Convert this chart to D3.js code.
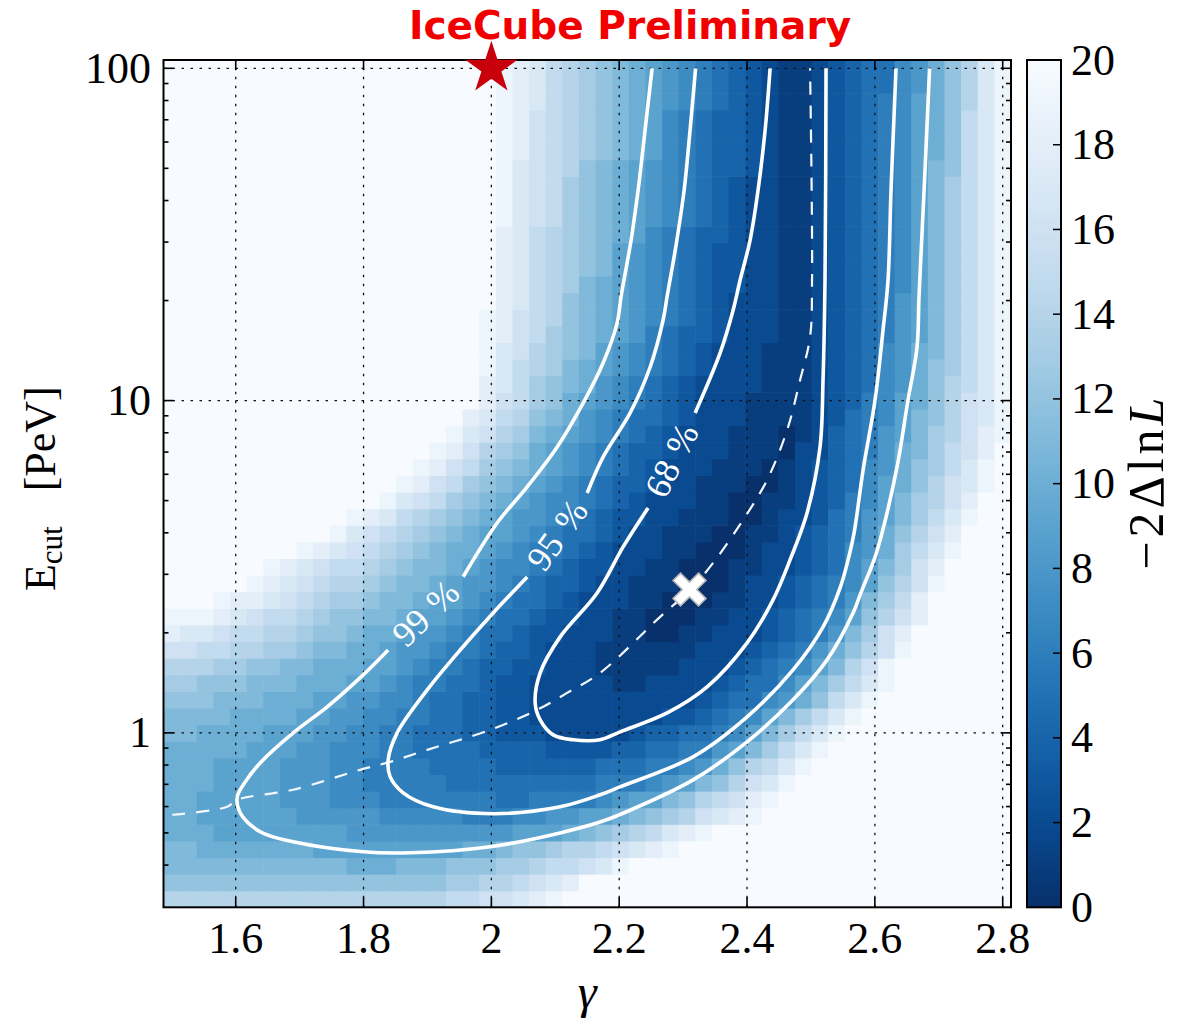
<!DOCTYPE html>
<html>
<head>
<meta charset="utf-8">
<script src="https://cdn.jsdelivr.net/npm/d3@7"></script>
<style>
  html, body { margin: 0; padding: 0; background: #fff; }
  svg { display: block; }
</style>
</head>
<body>
<svg id="chart" width="1182" height="1025"></svg>
<script>
// Scan grid: spectral index (columns) and log10 of the cutoff energy in PeV (rows)
const gammaGrid = [1.500,1.526,1.552,1.578,1.604,1.630,1.656,1.682,1.708,1.734,1.760,1.786,1.812,1.838,1.864,1.890,1.916,1.942,1.968,1.994,2.020,2.046,2.072,2.098,2.124,2.150,2.176,2.202,2.228,2.254,2.280,2.306,2.332,2.358,2.384,2.410,2.436,2.462,2.488,2.514,2.540,2.566,2.592,2.618,2.644,2.670,2.696,2.722,2.748,2.774,2.800];
const log10EcutGrid = [-0.50,-0.45,-0.40,-0.35,-0.30,-0.25,-0.20,-0.15,-0.10,-0.05,0.00,0.05,0.10,0.15,0.20,0.25,0.30,0.35,0.40,0.45,0.50,0.55,0.60,0.65,0.70,0.75,0.80,0.85,0.90,0.95,1.00,1.05,1.10,1.15,1.20,1.25,1.30,1.35,1.40,1.45,1.50,1.55,1.60,1.65,1.70,1.75,1.80,1.85,1.90,1.95,2.00];

// -2ΔlnL, one row per Ecut value (lowest Ecut first), one base-36 digit per γ column:
// 0-9 = 0-9, a = 10 ... k = 20 (20 and above). Spaces only group the columns in tens.
const tsByEcutRow = [
  "eeeeeeeeee eeeeeeeffg ghijkkkkkk kkkkkkkkkk kkkkkkkkkk k",
  "cccccccccc cccccccdde efghikkkkk kkkkkkkkkk kkkkkkkkkk k",
  "bbbbbbbbbb baaabbbccc ddeffghjkk kkkkkkkkkk kkkkkkkkkk k",
  "bbaaaaaaa9 99999999aa bccdeefghi jkkkkkkkkk kkkkkkkkkk k",
  "aaa9999999 9888888888 8999abcdef hijkkkkkkk kkkkkkkkkk k",
  "aa99999988 8887777766 6778899abc deghijkkkk kkkkkkkkkk k",
  "aa99999888 7776666666 5566667899 bcefgijkkk kkkkkkkkkk k",
  "aaa9999888 7766666555 5555556667 89bceghjkk kkkkkkkkkk k",
  "aaa9999888 7766665555 4444445556 678acefhjk kkkkkkkkkk k",
  "aaaaa99988 7776655554 4443333445 56689bdfhj kkkkkkkkkk k",
  "bbaaaa9998 8776655544 3332222234 455679bdfh jkkkkkkkkk k",
  "bbbbaaaa99 8877665544 3322222222 3345679bdf hjkkkkkkkk k",
  "cccbbbaaa9 9887765544 3322222222 22345578ac fhjkkkkkkk k",
  "ddcccbbbaa a998766554 3322222112 222345579b dfhjkkkkkk k",
  "eeeddccbba aa99876654 4332221111 1222345679 begjkkkkkk k",
  "ggffeeddcb baa9887665 4432221111 1122234568 acegjkkkkk k",
  "ihhgffeedc cbaa988765 5433222110 0112223456 8bdgikkkkk k",
  "jjjihgffed ccbba99876 5543322110 0011223456 79cegikkkk k",
  "kkkjiihgfe ddcbba9987 6554322211 0001122345 68bdfikkkk k",
  "kkkkkjihgf eedcbba988 7654432211 1000122345 679cegjkkk k",
  "kkkkkkjihg ffedcbba98 7765433221 1000112234 579bdgikkk k",
  "kkkkkkkkji hgfedcbaa9 8766543222 1100012234 578adfhjkk k",
  "kkkkkkkkkk jhgfedcba9 9876554322 1110011234 568acegikk k",
  "kkkkkkkkkk kjihfedcba 9887654332 2111001223 5689bdfhjk k",
  "kkkkkkkkkk kkkjhgfdcb a987765432 2211001123 4679bdegik k",
  "kkkkkkkkkk kkkkjigfdc ba98765443 2211100123 4579aceghj k",
  "kkkkkkkkkk kkkkkjigfd cba9876543 2221110123 4578acdfhj k",
  "kkkkkkkkkk kkkkkkjige dca9876544 3222111022 4568abdfgi k",
  "kkkkkkkkkk kkkkkkkjhg edba987654 3222111012 45689bdegi j",
  "kkkkkkkkkk kkkkkkkkih fecba87655 4322211112 35679bcegh j",
  "kkkkkkkkkk kkkkkkkkki gfdca98765 4322211112 34679acegh j",
  "kkkkkkkkkk kkkkkkkkki hfdcba8765 4322221112 34578acefh j",
  "kkkkkkkkkk kkkkkkkkkj hfedba9876 5432221112 34578acdfh j",
  "kkkkkkkkkk kkkkkkkkkj hgedcb9876 5432221112 34578abdfh j",
  "kkkkkkkkkk kkkkkkkkkj igfdcba986 5443222112 345689bdfh j",
  "kkkkkkkkkk kkkkkkkkkj igfecba987 6543222112 345689bdfh j",
  "kkkkkkkkkk kkkkkkkkkk ihfecba987 6543222112 345689bdfh j",
  "kkkkkkkkkk kkkkkkkkkk ihfedba987 6543322112 345679bdfh j",
  "kkkkkkkkkk kkkkkkkkkk ihfedcb987 6543322112 345679bdfh j",
  "kkkkkkkkkk kkkkkkkkkk ihfedcb987 6543322112 345679bdfh j",
  "kkkkkkkkkk kkkkkkkkkk ihfedcba97 6544322112 345679bdfh j",
  "kkkkkkkkkk kkkkkkkkkk jhgfdcba98 7654322112 345679bdfh j",
  "kkkkkkkkkk kkkkkkkkkk jhgfdcba98 7654322112 345679bdfh j",
  "kkkkkkkkkk kkkkkkkkkk jhgfdcba98 7654322112 345679bdfh j",
  "kkkkkkkkkk kkkkkkkkkk jhgfecba98 7654432112 345679bcfh j",
  "kkkkkkkkkk kkkkkkkkkk jigfedcba9 7654432112 345679acfh j",
  "kkkkkkkkkk kkkkkkkkkk jigfedcba9 7654432112 345679acfh j",
  "kkkkkkkkkk kkkkkkkkkk jigfedcba9 7654432112 345679acfh j",
  "kkkkkkkkkk kkkkkkkkkk jihfedcba9 8765432112 345679aceh j",
  "kkkkkkkkkk kkkkkkkkkk jihfedcba9 8765432112 345578aceh j",
  "kkkkkkkkkk kkkkkkkkkk jihfedcba9 8765432112 345578aceh j"
];

// Confidence contours as [γ, Ecut (PeV)] points; each level is split where its label sits
const contour99Upper = [[2.2515,100],[2.2405,65.2],[2.2296,43.0],[2.2186,30.4],[2.2030,20.6],[2.1967,17.1],[2.1748,12.98],[2.1435,9.83],[2.1029,7.25],[2.0560,5.50],[2.0090,4.28],[1.9559,2.95]];
const contour99Lower = [[1.8385,1.776],[1.7994,1.494],[1.7431,1.197],[1.6899,1.0],[1.6383,0.812],[1.6149,0.712],[1.6023,0.642],[1.6070,0.574],[1.6383,0.504],[1.6899,0.470],[1.7994,0.4385],[1.8729,0.4355],[1.9980,0.454],[2.1076,0.500],[2.1701,0.539],[2.2014,0.568],[2.3156,0.722],[2.4001,0.939],[2.4720,1.257],[2.5252,1.658],[2.5659,2.296],[2.5799,2.693],[2.5988,3.315],[2.6113,3.998],[2.6347,6.314],[2.6519,10.04],[2.6660,14.50],[2.6691,20.6],[2.6770,43.0],[2.6856,100]];
const contour95Upper = [[2.3195,100],[2.3109,65.2],[2.3016,43.0],[2.2890,29.4],[2.2750,20.6],[2.2687,17.48],[2.2484,12.62],[2.2171,9.18],[2.1749,6.77],[2.1499,5.27]];
const contour95Lower = [[2.0560,2.946],[2.0028,2.296],[1.9512,1.776],[1.8996,1.347],[1.8526,1.0],[1.8385,0.829],[1.8417,0.737],[1.8620,0.660],[1.9089,0.599],[2.0028,0.571],[2.1076,0.599],[2.1701,0.651],[2.2014,0.688],[2.3156,0.847],[2.4001,1.117],[2.4720,1.547],[2.5190,2.084],[2.5456,2.731],[2.5581,3.315],[2.5675,3.998],[2.5816,6.18],[2.6003,10.04],[2.6128,16.31],[2.6206,23.06],[2.6253,43.0],[2.6331,100]];
const contour68Upper = [[2.4361,100],[2.4283,65.2],[2.4173,43.0],[2.4048,30.4],[2.3892,23.06],[2.3783,18.73],[2.3579,13.91],[2.3188,9.18]];
const contour68Lower = [[2.2452,4.753],[2.2061,3.627],[2.1655,2.637],[2.1076,1.945],[2.0763,1.515],[2.0685,1.231],[2.0763,1.094],[2.0967,0.986],[2.1279,0.953],[2.1701,0.953],[2.2014,1.007],[2.2750,1.148],[2.3375,1.375],[2.4001,1.866],[2.4407,2.513],[2.4673,3.315],[2.4939,4.590],[2.5142,7.25],[2.5189,11.53],[2.5220,23.06],[2.5236,100]];
const contourLevelLabels = ["99 %", "95 %", "68 %"];

// Best-fit Ecut for each γ (dashed), the overall best fit and the E^-2 reference point
const profileBestFit = [[1.5007,0.567],[1.5867,0.599],[1.6023,0.629],[1.6899,0.674],[1.7947,0.774],[1.8417,0.818],[1.8996,0.889],[1.9981,1.021],[2.0716,1.173],[2.1185,1.319],[2.1701,1.515],[2.2640,2.234],[2.3109,2.693],[2.3469,3.246],[2.3938,4.373],[2.4314,5.77],[2.4627,8.155],[2.4830,11.53],[2.4986,15.54],[2.5017,23.06],[2.4986,100]];
const bestFitPoint = [2.31, 2.7];
const referencePoint = [2.0, 100];

// Axis ticks
const gammaTicks = [1.6, 1.8, 2.0, 2.2, 2.4, 2.6, 2.8];
const gammaTickLabels = ["1.6", "1.8", "2", "2.2", "2.4", "2.6", "2.8"];
const ecutTicks = [1, 10, 100];
const ecutTickLabels = ["1", "10", "100"];
const ecutMinorTicks = [0.4,0.5,0.6,0.7,0.8,0.9,2,3,4,5,6,7,8,9,20,30,40,50,60,70,80,90];
const colorbarTicks = [0, 2, 4, 6, 8, 10, 12, 14, 16, 18, 20];

// ---------------------------------------------------------------- layout
const plot = { left: 163.5, right: 1011, top: 60, bottom: 907.3 };
const cbar = { left: 1027, right: 1061, top: 60, bottom: 907.3 };
const serif = "'Liberation Serif', 'Times New Roman', serif";
const tickFont = 44;

const svg = d3.select("#chart");
const defs = svg.append("defs");
defs.append("clipPath").attr("id", "plotClip")
  .append("rect")
  .attr("x", plot.left).attr("y", plot.top)
  .attr("width", plot.right - plot.left).attr("height", plot.bottom - plot.top);

// cell edges halfway between neighbouring grid values
function cellEdges(c) {
  const e = [c[0] - (c[1] - c[0]) / 2];
  for (let i = 1; i < c.length; i++) e.push((c[i - 1] + c[i]) / 2);
  e.push(c[c.length - 1] + (c[c.length - 1] - c[c.length - 2]) / 2);
  return e;
}
const gEdges = cellEdges(gammaGrid);
const lEdges = cellEdges(log10EcutGrid);

const x = d3.scaleLinear()
  .domain([gEdges[0], gEdges[gEdges.length - 1]])
  .range([plot.left, plot.right]);
const y = d3.scaleLog()
  .domain([Math.pow(10, lEdges[0]), Math.pow(10, lEdges[lEdges.length - 1])])
  .range([plot.bottom, plot.top]);
const color = d3.scaleSequential(d3.interpolateBlues).domain([20, 0]).clamp(true);

// ---------------------------------------------------------------- heat map
const cells = [];
tsByEcutRow.forEach((row, j) => {
  const s = row.replace(/ /g, "");
  if (s.length !== gammaGrid.length) console.error("row " + j + " has " + s.length + " cells");
  for (let i = 0; i < s.length; i++) cells.push({ i, j, v: parseInt(s[i], 36) });
});

svg.append("g")
  .attr("clip-path", "url(#plotClip)")
  .selectAll("rect")
  .data(cells)
  .join("rect")
  .attr("x", d => x(gEdges[d.i]))
  .attr("width", d => x(gEdges[d.i + 1]) - x(gEdges[d.i]) + 0.6)
  .attr("y", d => y(Math.pow(10, lEdges[d.j + 1])))
  .attr("height", d => y(Math.pow(10, lEdges[d.j])) - y(Math.pow(10, lEdges[d.j + 1])) + 0.6)
  .attr("fill", d => color(d.v));

// ---------------------------------------------------------------- dotted grid
const grid = svg.append("g")
  .attr("clip-path", "url(#plotClip)")
  .attr("stroke", "#111")
  .attr("stroke-width", 1.3)
  .attr("stroke-dasharray", "2.5,6.5");
grid.selectAll("line.gx").data(gammaTicks).join("line")
  .attr("x1", d => x(d)).attr("x2", d => x(d))
  .attr("y1", plot.bottom).attr("y2", plot.top);
grid.selectAll("line.gy").data(ecutTicks).join("line")
  .attr("x1", plot.left).attr("x2", plot.right)
  .attr("y1", d => y(d)).attr("y2", d => y(d));

// ---------------------------------------------------------------- contours
const line = d3.line()
  .x(d => x(d[0]))
  .y(d => y(d[1]))
  .curve(d3.curveCatmullRom.alpha(0.5));

const contourGroup = svg.append("g")
  .attr("clip-path", "url(#plotClip)")
  .attr("fill", "none");

contourGroup.append("path")
  .attr("d", line(profileBestFit))
  .attr("stroke", "#f4f8fc")
  .attr("stroke-width", 2.2)
  .attr("stroke-dasharray", "13,11");

[contour99Upper, contour99Lower, contour95Upper, contour95Lower, contour68Upper, contour68Lower]
  .forEach(seg => {
    contourGroup.append("path")
      .attr("d", line(seg))
      .attr("stroke", "#fff")
      .attr("stroke-width", 3.6)
      .attr("stroke-linejoin", "round");
  });

// labels sit in the gap between the two pieces of each level
const labelPairs = [
  [contour99Upper, contour99Lower],
  [contour95Upper, contour95Lower],
  [contour68Upper, contour68Lower]
];
labelPairs.forEach((pair, k) => {
  const a = pair[0][pair[0].length - 1];
  const b = pair[1][0];
  const ax = x(a[0]), ay = y(a[1]), bx = x(b[0]), by = y(b[1]);
  const ang = Math.atan2(ay - by, ax - bx) * 180 / Math.PI;
  svg.append("text")
    .attr("transform", `translate(${(ax + bx) / 2},${(ay + by) / 2}) rotate(${ang})`)
    .attr("text-anchor", "middle")
    .attr("dominant-baseline", "central")
    .attr("font-family", serif)
    .attr("font-size", 36)
    .attr("word-spacing", 2)
    .attr("fill", "#fff")
    .text(contourLevelLabels[k]);
});

// best-fit marker: filled "X"
(function () {
  const L = 18, w = 5.2;
  const plus = [[-w,-L],[w,-L],[w,-w],[L,-w],[L,w],[w,w],[w,L],[-w,L],[-w,w],[-L,w],[-L,-w],[-w,-w]];
  const s = Math.SQRT1_2;
  const pts = plus.map(p => [(p[0] - p[1]) * s, (p[0] + p[1]) * s]);
  svg.append("path")
    .attr("transform", `translate(${x(bestFitPoint[0])},${y(bestFitPoint[1])})`)
    .attr("d", "M" + pts.map(p => p.join(",")).join("L") + "Z")
    .attr("fill", "#fff")
    .attr("stroke", "#b8b8b8")
    .attr("stroke-width", 1.6)
    .attr("stroke-linejoin", "miter");
})();

// ---------------------------------------------------------------- frame and ticks
const axes = svg.append("g").attr("stroke", "#000").attr("stroke-width", 1.6);
gammaTicks.forEach(g => {
  axes.append("line").attr("x1", x(g)).attr("x2", x(g)).attr("y1", plot.bottom).attr("y2", plot.bottom - 10);
  axes.append("line").attr("x1", x(g)).attr("x2", x(g)).attr("y1", plot.top).attr("y2", plot.top + 10);
});
ecutTicks.forEach(e => {
  axes.append("line").attr("x1", plot.left).attr("x2", plot.left + 10).attr("y1", y(e)).attr("y2", y(e));
  axes.append("line").attr("x1", plot.right).attr("x2", plot.right - 10).attr("y1", y(e)).attr("y2", y(e));
});
ecutMinorTicks.forEach(e => {
  axes.append("line").attr("x1", plot.left).attr("x2", plot.left + 5).attr("y1", y(e)).attr("y2", y(e));
  axes.append("line").attr("x1", plot.right).attr("x2", plot.right - 5).attr("y1", y(e)).attr("y2", y(e));
});
svg.append("rect")
  .attr("x", plot.left).attr("y", plot.top)
  .attr("width", plot.right - plot.left).attr("height", plot.bottom - plot.top)
  .attr("fill", "none").attr("stroke", "#000").attr("stroke-width", 2);

// tick labels
svg.append("g").selectAll("text").data(gammaTicks).join("text")
  .attr("x", d => x(d)).attr("y", 953)
  .attr("text-anchor", "middle")
  .attr("font-family", serif).attr("font-size", tickFont).attr("fill", "#000")
  .text((d, i) => gammaTickLabels[i]);
svg.append("g").selectAll("text").data(ecutTicks).join("text")
  .attr("x", 151).attr("y", d => y(d) + 14.5)
  .attr("text-anchor", "end")
  .attr("font-family", serif).attr("font-size", tickFont).attr("fill", "#000")
  .text((d, i) => ecutTickLabels[i]);

// axis titles
svg.append("text")
  .attr("x", (plot.left + plot.right) / 2).attr("y", 1008)
  .attr("text-anchor", "middle")
  .attr("font-family", serif).attr("font-size", 48).attr("font-style", "italic")
  .text("γ");

const yTitle = svg.append("text")
  .attr("transform", `translate(55,${(plot.top + plot.bottom) / 2 + 5}) rotate(-90)`)
  .attr("text-anchor", "middle")
  .attr("font-family", serif).attr("font-size", 44).attr("fill", "#000");
yTitle.append("tspan").text("E");
yTitle.append("tspan").attr("font-size", 31).attr("dy", 7).text("cut");
yTitle.append("tspan").attr("dy", -7).attr("dx", 24).text(" [PeV]");

// ---------------------------------------------------------------- colour bar
const grad = defs.append("linearGradient").attr("id", "cbarGrad")
  .attr("x1", 0).attr("y1", 1).attr("x2", 0).attr("y2", 0);
d3.range(0, 20.001, 0.5).forEach(v => {
  grad.append("stop").attr("offset", v / 20).attr("stop-color", color(v));
});
const cbScale = d3.scaleLinear().domain([0, 20]).range([cbar.bottom, cbar.top]);
svg.append("rect")
  .attr("x", cbar.left).attr("y", cbar.top)
  .attr("width", cbar.right - cbar.left).attr("height", cbar.bottom - cbar.top)
  .attr("fill", "url(#cbarGrad)")
  .attr("stroke", "#000").attr("stroke-width", 2);
svg.append("g").attr("stroke", "#000").attr("stroke-width", 1.5)
  .selectAll("line").data(colorbarTicks).join("line")
  .attr("x1", cbar.right).attr("x2", cbar.right - 8)
  .attr("y1", d => cbScale(d)).attr("y2", d => cbScale(d));
svg.append("g").selectAll("text").data(colorbarTicks).join("text")
  .attr("x", 1071).attr("y", d => cbScale(d) + 14.5)
  .attr("font-family", serif).attr("font-size", tickFont).attr("fill", "#000")
  .text(d => d);

const cbTitle = svg.append("text")
  .attr("transform", `translate(1163,${(cbar.top + cbar.bottom) / 2 - 2}) rotate(-90)`)
  .attr("text-anchor", "middle")
  .attr("font-family", serif).attr("font-size", 50).attr("letter-spacing", 4).attr("fill", "#000");
cbTitle.append("tspan").text("−2Δln");
cbTitle.append("tspan").attr("font-style", "italic").text("L");

// ---------------------------------------------------------------- reference star and title
(function () {
  const R = 27.5, r = 10.5;
  const pts = d3.range(10).map(k => {
    const a = -Math.PI / 2 + k * Math.PI / 5;
    const rad = k % 2 === 0 ? R : r;
    return [rad * Math.cos(a), rad * Math.sin(a)];
  });
  svg.append("path")
    .attr("transform", `translate(${x(referencePoint[0])},${y(referencePoint[1])})`)
    .attr("d", "M" + pts.map(p => p.join(",")).join("L") + "Z")
    .attr("fill", "#c8000c");
})();

svg.append("text")
  .attr("x", 630).attr("y", 39)
  .attr("text-anchor", "middle")
  .attr("font-family", "'DejaVu Sans', Verdana, sans-serif")
  .attr("font-weight", "bold").attr("font-size", 39)
  .attr("fill", "#f20000")
  .text("IceCube Preliminary");
</script>
</body>
</html>
